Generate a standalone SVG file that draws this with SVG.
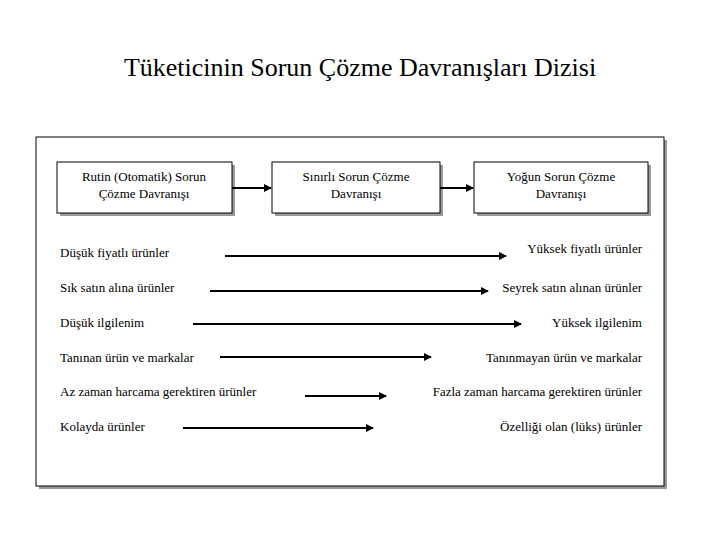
<svg xmlns="http://www.w3.org/2000/svg" width="720" height="540" viewBox="0 0 720 540">
<style>
text{font-family:"Liberation Serif","DejaVu Serif",serif;fill:#000}
.t{font-family:"Liberation Serif","DejaVu Serif",serif;font-size:13px}
.c{text-anchor:middle}
.r{text-anchor:end}
.box{fill:#fff;stroke:#000;stroke-width:1}
.sh{fill:#999}
.ln{stroke:#000;stroke-width:2;fill:none;marker-end:url(#a)}
</style>
<defs><marker id="a" viewBox="0 0 8 8" refX="7" refY="4" markerWidth="4" markerHeight="4" orient="auto" markerUnits="strokeWidth"><path d="M0,0L8,4L0,8z" fill="#000"/></marker></defs>
<rect width="720" height="540" fill="#fff"/>
<text x="360" y="76" class="c" font-size="26">Tüketicinin Sorun Çözme Davranışları Dizisi</text>
<g id="frame"><rect x="39" y="140" width="628" height="349" class="sh"/><rect x="36" y="137" width="628" height="349" class="box"/></g>
<g id="n1"><rect x="60" y="165" width="175" height="51" class="sh"/><rect x="57" y="162" width="175" height="51" class="box"/><text x="144" y="181" class="t c">Rutin (Otomatik) Sorun</text><text x="144" y="198" class="t c">Çözme Davranışı</text></g>
<g id="n2"><rect x="275" y="165" width="168" height="51" class="sh"/><rect x="272" y="162" width="168" height="51" class="box"/><text x="356" y="181" class="t c">Sınırlı Sorun Çözme</text><text x="356" y="198" class="t c">Davranışı</text></g>
<g id="n3"><rect x="477" y="165" width="174" height="51" class="sh"/><rect x="474" y="162" width="174" height="51" class="box"/><text x="561" y="181" class="t c">Yoğun Sorun Çözme</text><text x="561" y="198" class="t c">Davranışı</text></g>
<g id="labels">
<text x="60" y="257" class="t">Düşük fiyatlı ürünler</text><text x="642" y="253" class="t r">Yüksek fiyatlı ürünler</text>
<text x="60" y="292" class="t">Sık satın alına ürünler</text><text x="642" y="292" class="t r">Seyrek satın alınan ürünler</text>
<text x="60" y="327" class="t">Düşük ilgilenim</text><text x="642" y="327" class="t r">Yüksek ilgilenim</text>
<text x="60" y="362" class="t">Tanınan ürün ve markalar</text><text x="642" y="362" class="t r">Tanınmayan  ürün ve  markalar</text>
<text x="60" y="396" class="t">Az zaman harcama gerektiren ürünler</text><text x="642" y="396" class="t r">Fazla zaman harcama gerektiren ürünler</text>
<text x="60" y="431" class="t">Kolayda ürünler</text><text x="642" y="431" class="t r">Özelliği olan (lüks) ürünler</text>
</g>
<g id="connectors">
<path d="M232,188H271" class="ln"/>
<path d="M440,188H473" class="ln"/>
<path d="M225,256H506" class="ln"/>
<path d="M210,291H488" class="ln"/>
<path d="M193,324H521" class="ln"/>
<path d="M220,357H431" class="ln"/>
<path d="M305,396H386" class="ln"/>
<path d="M183,428H373" class="ln"/>
</g>
</svg>
